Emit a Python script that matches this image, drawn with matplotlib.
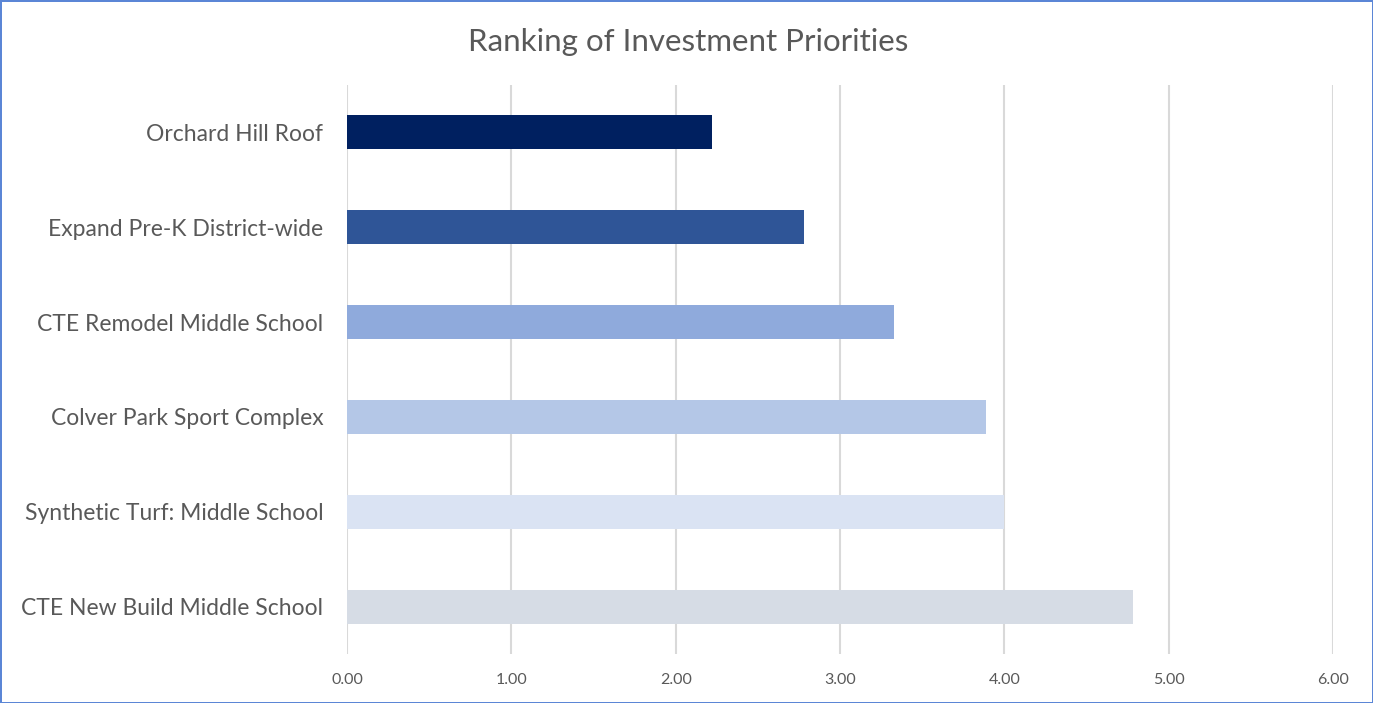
import matplotlib
matplotlib.use('Agg')
import matplotlib.pyplot as plt

# data, bottom to top
projects = ['CTE New Build Middle School', 'Synthetic Turf: Middle School',
            'Colver Park Sport Complex', 'CTE Remodel Middle School',
            'Expand Pre-K District-wide', 'Orchard Hill Roof']
scores = [4.78, 4.00, 3.89, 3.33, 2.78, 2.22]
colors = ['#D6DCE5', '#DAE3F3', '#B4C7E7', '#8FAADC', '#2F5597', '#002060']
xticks = [0, 1, 2, 3, 4, 5, 6]

plt.rcParams['font.family'] = ['Lato', 'DejaVu Sans']

fig = plt.figure(figsize=(13.73, 7.03), dpi=100)
fig.patch.set_edgecolor('#5B86D6')
fig.patch.set_linewidth(2)
ax = fig.add_axes([0.2527, 0.0697, 0.7182, 0.8094])

ax.barh(projects, scores, height=0.36, color=colors, zorder=3)
ax.set_xlim(0, 6)
ax.set_ylim(-0.5, 5.5)
ax.set_xticks(xticks)
ax.set_xticklabels([f'{v:.2f}' for v in xticks])
ax.grid(axis='x', color='#D9D9D9', linewidth=1.5, zorder=0)
for s in ax.spines.values():
    s.set_visible(False)
ax.tick_params(axis='both', length=0, colors='#595959')
ax.tick_params(axis='x', labelsize=11.5, pad=14)
ax.tick_params(axis='y', labelsize=16.5, pad=17)

fig.suptitle('Ranking of Investment Priorities', x=0.501, y=0.96,
             fontsize=22.5, color='#595959')

fig.savefig('out.png', dpi=100)
